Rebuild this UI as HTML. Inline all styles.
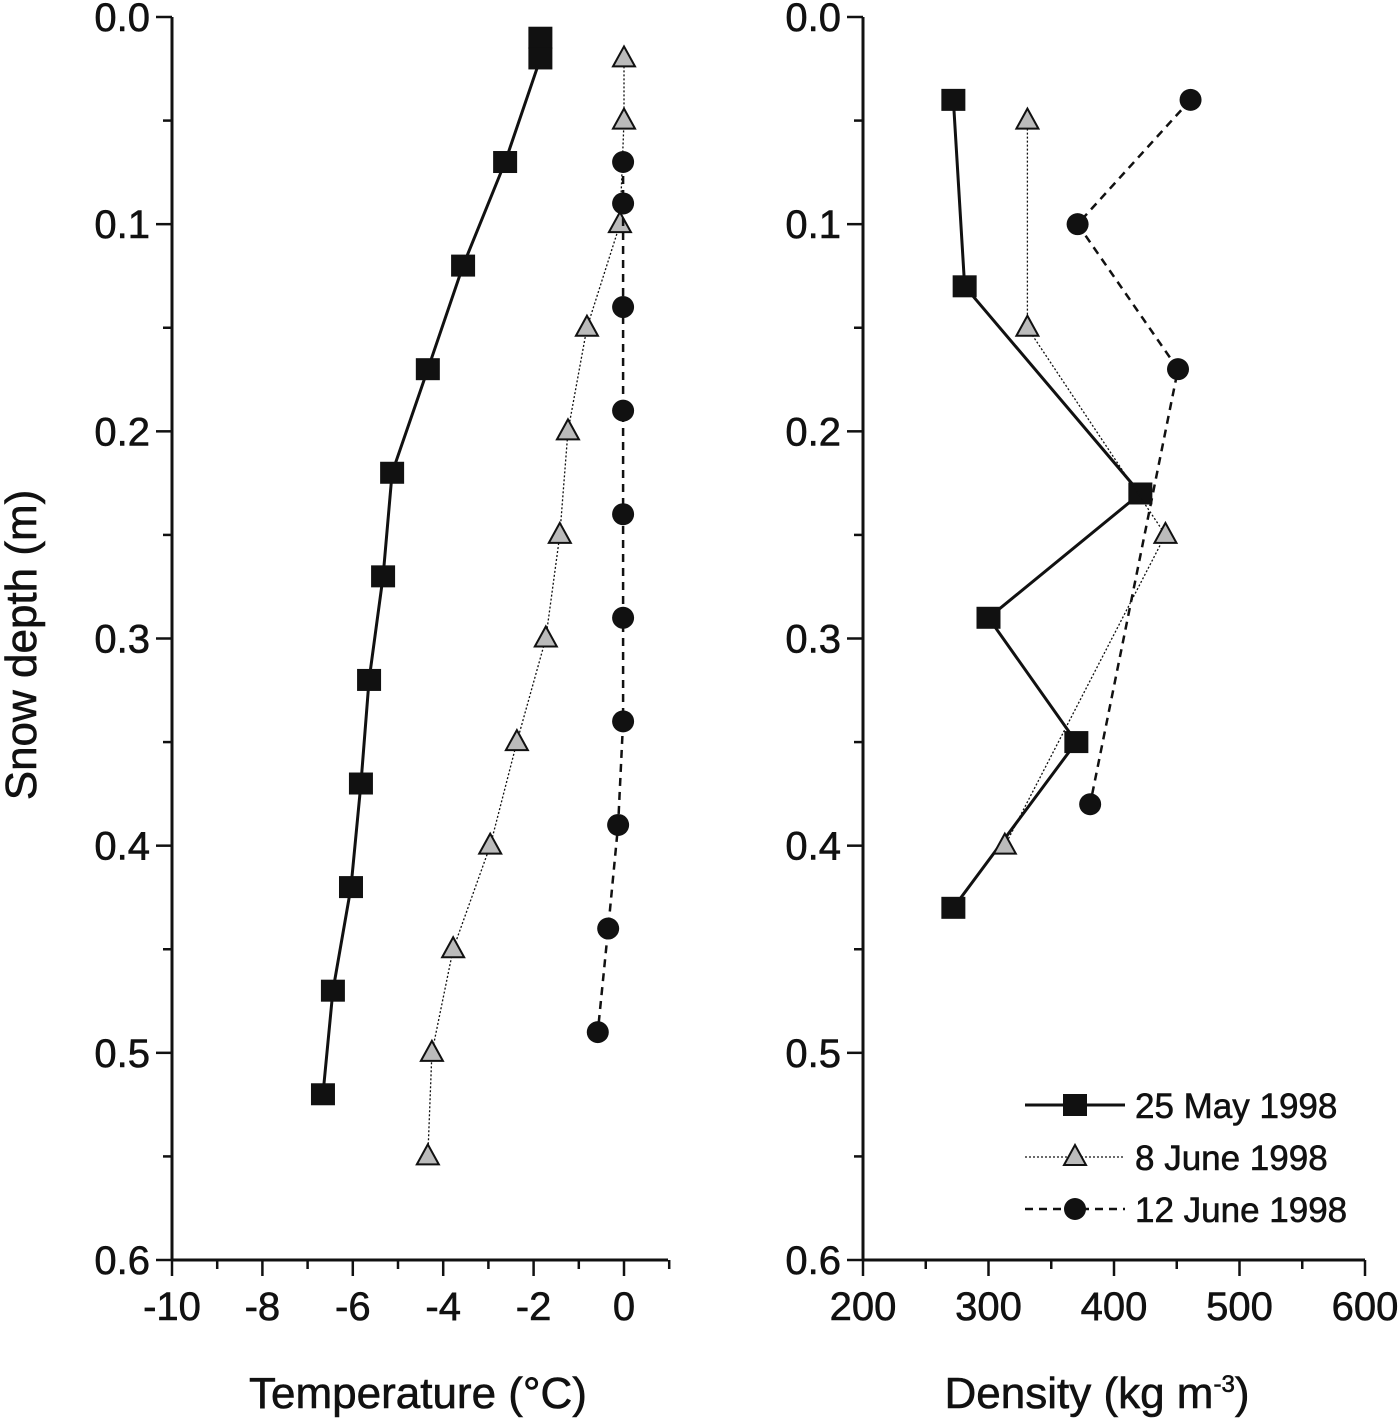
<!DOCTYPE html>
<html><head><meta charset="utf-8"><style>
html,body{margin:0;padding:0;background:#fff;}
svg text{font-family:"Liberation Sans",Arial,sans-serif;fill:#111;stroke:#111;stroke-width:0.6;}
</style></head><body>
<svg id="chart" width="1400" height="1421" viewBox="0 0 1400 1421" xmlns="http://www.w3.org/2000/svg"></svg>
<script>
const depthTicks=[0,0.1,0.2,0.3,0.4,0.5,0.6];
const tempTicks=[-10,-8,-6,-4,-2,0];
const densTicks=[200,300,400,500,600];
const seriesNames=["25 May 1998","8 June 1998","12 June 1998"];
const tempMayDepth=[0.01,0.02,0.07,0.12,0.17,0.22,0.27,0.32,0.37,0.42,0.47,0.52];
const tempMayVal=[-1.85,-1.85,-2.63,-3.56,-4.34,-5.13,-5.33,-5.64,-5.82,-6.04,-6.44,-6.66];
const tempJun8Depth=[0.02,0.05,0.10,0.15,0.20,0.25,0.30,0.35,0.40,0.45,0.50,0.55];
const tempJun8Val=[0,0,-0.09,-0.82,-1.24,-1.42,-1.73,-2.37,-2.96,-3.78,-4.25,-4.34];
const tempJun12Depth=[0.07,0.09,0.14,0.19,0.24,0.29,0.34,0.39,0.44,0.49];
const tempJun12Val=[-0.02,-0.02,-0.02,-0.02,-0.02,-0.02,-0.02,-0.13,-0.35,-0.58];
const densMayDepth=[0.04,0.13,0.23,0.29,0.35,0.43];
const densMayVal=[272,281,421,300,370,272];
const densJun8Depth=[0.05,0.15,0.25,0.40];
const densJun8Val=[331,331,441,313];
const densJun12Depth=[0.04,0.10,0.17,0.38];
const densJun12Val=[461,371,451,381];

const svg=document.getElementById('chart');
const NS='http://www.w3.org/2000/svg';
function el(tag,attrs,parent){const e=document.createElementNS(NS,tag);for(const k in attrs)e.setAttribute(k,attrs[k]);(parent||svg).appendChild(e);return e;}
const y=d=>17+d*(1260-17)/0.6;
const xT=t=>624+t*45.2;
const xD=v=>863+(v-200)*(1365-863)/400;

function axes(name,x0,x1,xs,ticks,minorStep,lo,hi,titleX){
  const g=el('g',{});
  
  
  el('line',{x1:x0,y1:17,x2:x0,y2:1260,stroke:'#111','stroke-width':3},g);
  el('line',{x1:x0,y1:1260,x2:x1,y2:1260,stroke:'#111','stroke-width':3},g);
  for(let d=0;d<=0.6001;d+=0.05){
    const major=Math.abs(d*10-Math.round(d*10))<1e-6;
    el('line',{x1:x0-(major?16:9),y1:y(d),x2:x0,y2:y(d),stroke:'#111','stroke-width':2.5},g);
    if(major){const t=el('text',{x:x0-22,y:y(d)+14,'text-anchor':'end','font-size':40},g);t.textContent=d.toFixed(1);}
  }
  for(let v=lo;v<=hi+1e-6;v+=minorStep){
    const major=ticks.some(t=>Math.abs(t-v)<1e-6);
    el('line',{x1:xs(v),y1:1260,x2:xs(v),y2:1260+(major?16:9),stroke:'#111','stroke-width':2.5},g);
  }
  ticks.forEach(v=>{const t=el('text',{x:xs(v),y:1320,'text-anchor':'middle','font-size':40},g);t.textContent=v;});
  return el('text',{x:titleX,y:1408,'text-anchor':'middle','font-size':44},g);
}
const tt1=axes('temperature-axes',172,668,xT,tempTicks,1,-10,1,418);
tt1.textContent='Temperature (°C)';


const tt2=axes('density-axes',863,1365,xD,densTicks,50,200,600,1097);
tt2.innerHTML='Density (kg m<tspan dy="-16" font-size="24">-3</tspan><tspan dy="16">)</tspan>';


const yt=el('text',{x:0,y:0,'text-anchor':'middle','font-size':44,transform:'translate(36,645) rotate(-90)'});
yt.textContent='Snow depth (m)';



const styles=[{w:3,dash:'',m:'sq'},{w:1.3,dash:'2,2',m:'tri'},{w:2.5,dash:'8,6',m:'ci'}];
function marker(type,cx,cy,parent){
  if(type==='sq')return el('rect',{x:cx-12,y:cy-11,width:24,height:22,fill:'#111'},parent);
  if(type==='tri')return el('polygon',{points:`${cx},${cy-12} ${cx-11},${cy+8} ${cx+11},${cy+8}`,fill:'#bbb',stroke:'#111','stroke-width':2},parent);
  return el('circle',{cx:cx,cy:cy,r:11,fill:'#111'},parent);
}
function series(name,xs,vals,depths,s){
  const g=el('g',{});
  
  
  const pts=vals.map((v,i)=>xs(v)+','+y(depths[i])).join(' ');
  el('polyline',{points:pts,fill:'none',stroke:'#111','stroke-width':s.w,'stroke-dasharray':s.dash},g);
  vals.forEach((v,i)=>{const m=marker(s.m,xs(v),y(depths[i]),g);
    
    });
}
series('temp-25-may',xT,tempMayVal,tempMayDepth,styles[0]);
series('temp-8-june',xT,tempJun8Val,tempJun8Depth,styles[1]);
series('temp-12-june',xT,tempJun12Val,tempJun12Depth,styles[2]);
series('density-25-may',xD,densMayVal,densMayDepth,styles[0]);
series('density-8-june',xD,densJun8Val,densJun8Depth,styles[1]);
series('density-12-june',xD,densJun12Val,densJun12Depth,styles[2]);

const lg=el('g',{});


seriesNames.forEach((n,i)=>{
  const ly=1105+i*52;const s=styles[i];
  const g=el('g',{},lg);
  
  
  el('line',{x1:1025,y1:ly,x2:1125,y2:ly,stroke:'#111','stroke-width':s.w,'stroke-dasharray':s.dash},g);
  marker(s.m,1075,ly,g);
  const t=el('text',{x:1135,y:ly+13,'font-size':35},g);t.textContent=n;
});
</script>
</body></html>
